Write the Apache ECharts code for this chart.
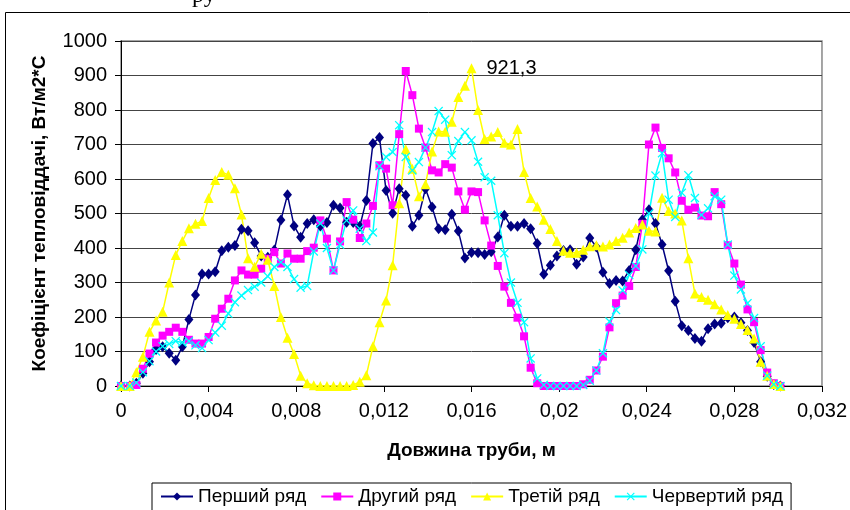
<!DOCTYPE html>
<html>
	<head>
		<meta charset="utf-8">
		<title></title>
		<script src="https://cdn.jsdelivr.net/npm/echarts@6/dist/echarts.min.js" type="text/javascript" charset="utf-8"></script>
	</head>
	<body style="margin:0;background:#fff;">
		<div id="mainChart" style="width: 850px;height:510px;"></div>
		<script type="text/javascript">
			// довжина труби, м
			var xs = [0, 0.0004, 0.0007, 0.001, 0.0013, 0.0016, 0.0019, 0.0022, 0.0025, 0.0028,
				0.0031, 0.0034, 0.0037, 0.004, 0.0043, 0.0046, 0.0049, 0.0052, 0.0055, 0.0058,
				0.0061, 0.0064, 0.0067, 0.007, 0.0073, 0.0076, 0.0079, 0.0082, 0.0085, 0.0088,
				0.0091, 0.0094, 0.0097, 0.01, 0.0103, 0.0106, 0.0109, 0.0112, 0.0115, 0.0118,
				0.0121, 0.0124, 0.0127, 0.013, 0.0133, 0.0136, 0.0139, 0.0142, 0.0145, 0.0148,
				0.0151, 0.0154, 0.0157, 0.016, 0.0163, 0.0166, 0.0169, 0.0172, 0.0175, 0.0178,
				0.0181, 0.0184, 0.0187, 0.019, 0.0193, 0.0196, 0.0199, 0.0202, 0.0205, 0.0208,
				0.0211, 0.0214, 0.0217, 0.022, 0.0223, 0.0226, 0.0229, 0.0232, 0.0235, 0.0238,
				0.0241, 0.0244, 0.0247, 0.025, 0.0253, 0.0256, 0.0259, 0.0262, 0.0265, 0.0268,
				0.0271, 0.0274, 0.0277, 0.028, 0.0283, 0.0286, 0.0289, 0.0292, 0.0295, 0.0298,
				0.0301];

			var row1 = [0, 0, 8, 37, 70, 106, 114, 95, 75, 114,
				193, 264, 325, 325, 331, 392, 402, 407, 454, 450,
				415, 377, 373, 394, 481, 554, 464, 431, 471, 482,
				464, 474, 524, 516, 475, 474, 463, 538, 703, 720,
				567, 501, 572, 553, 463, 495, 572, 519, 456, 453,
				498, 449, 371, 387, 386, 381, 389, 432, 495, 463,
				463, 471, 456, 413, 324, 350, 377, 393, 395, 353,
				374, 429, 403, 330, 297, 306, 304, 335, 395, 482,
				511, 471, 410, 334, 246, 175, 161, 138, 130, 166,
				180, 182, 198, 200, 183, 161, 126, 70, 28, 4,
				0];

			var row2 = [0, 0, 3, 50, 94, 126, 146, 157, 169, 157,
				134, 123, 123, 142, 195, 224, 253, 306, 335, 323,
				323, 340, 369, 388, 355, 384, 369, 369, 391, 401,
				480, 427, 335, 419, 533, 482, 429, 471, 522, 640,
				630, 524, 730, 913, 843, 746, 691, 625, 619, 643,
				633, 564, 511, 564, 562, 480, 407, 348, 288, 241,
				198, 144, 53, 8, 0, 0, 0, 0, 0, 0,
				5, 18, 45, 85, 170, 240, 262, 290, 345, 470,
				700, 749, 690, 660, 619, 537, 511, 517, 494, 492,
				562, 527, 408, 355, 294, 222, 185, 104, 39, 8,
				0];

			var row3 = [0, 0, 40, 85, 157, 190, 215, 300, 380, 420,
				457, 470, 478, 545, 597, 620, 612, 573, 497, 370,
				346, 383, 366, 290, 200, 140, 93, 30, 8, 2,
				0, 0, 0, 0, 0, 3, 12, 31, 115, 185,
				248, 350, 530, 686, 630, 550, 585, 680, 738, 737,
				766, 838, 870, 921.3, 800, 716, 723, 736, 705, 700,
				745, 620, 545, 520, 482, 455, 420, 392, 386, 386,
				395, 405, 408, 404, 410, 420, 430, 445, 458, 468,
				450, 448, 546, 507, 500, 480, 370, 268, 258, 250,
				237, 222, 206, 195, 180, 162, 138, 70, 30, 6,
				0];

			var row4 = [0, 0, 10, 40, 72, 100, 115, 122, 130, 126,
				130, 118, 110, 133, 155, 175, 210, 243, 262, 278,
				288, 300, 318, 345, 359, 345, 310, 285, 290, 390,
				471, 400, 335, 410, 480, 509, 456, 420, 445, 637,
				664, 678, 756, 664, 625, 649, 691, 736, 797, 772,
				669, 710, 736, 712, 650, 605, 595, 495, 385, 300,
				241, 185, 80, 22, 3, 0, 0, 0, 0, 0,
				3, 15, 45, 95, 187, 220, 277, 322, 348, 396,
				500, 610, 675, 540, 490, 560, 611, 545, 496, 515,
				550, 540, 410, 320, 280, 240, 197, 115, 30, 5,
				0];

			var names = ['Перший ряд', 'Другий ряд', 'Третій ряд', 'Червертий ряд'];
			var peakIndex = 53; // 921,3

			var dom = document.getElementById("mainChart");
			var myChart = echarts.init(dom);

			function pairs(ys) {
				var out = [];
				for (var i = 0; i < ys.length; i++) {
					out.push([xs[i], ys[i]]);
				}
				return out;
			}

			var data3 = pairs(row3);
			data3[peakIndex] = {
				value: data3[peakIndex],
				label: {
					show: true,
					position: 'right',
					distance: 10,
					formatter: '921,3',
					color: '#000',
					fontSize: 20,
					fontFamily: 'Liberation Sans'
				}
			};

			var crossPath = 'path://M0,1L1,0L5,4L9,0L10,1L6,5L10,9L9,10L5,6L1,10L0,9L4,5Z';

			var option = {
				animation: false,
				backgroundColor: '#fff',
				textStyle: {
					fontFamily: 'Liberation Sans',
					color: '#000'
				},
				graphic: [{
					type: 'rect',
					shape: { x: 5.5, y: 12.5, width: 900, height: 600 },
					style: { fill: 'none', stroke: '#000', lineWidth: 1 },
					silent: true
				}, {
					type: 'text',
					style: {
						x: 192, y: 8,
						text: 'ру',
						font: '24px "Liberation Serif"',
						fill: '#000',
						textVerticalAlign: 'bottom'
					},
					silent: true
				}],
				grid: {
					left: 121,
					right: 27,
					top: 41,
					bottom: 124,
					show: true,
					borderColor: '#888',
					borderWidth: 1.5
				},
				legend: {
					data: names,
					left: 152,
					top: 483,
					padding: [4, 8, 20, 8],
					itemWidth: 32,
					itemHeight: 10,
					itemGap: 14,
					borderColor: '#000',
					borderWidth: 1,
					textStyle: { fontSize: 19, color: '#000', fontFamily: 'Liberation Sans' }
				},
				xAxis: {
					type: 'value',
					min: 0,
					max: 0.032,
					interval: 0.004,
					name: 'Довжина труби, м',
					nameLocation: 'middle',
					nameGap: 55,
					nameTextStyle: { fontSize: 19, fontWeight: 'bold', color: '#000' },
					axisLine: { lineStyle: { color: '#000', width: 1 } },
					axisTick: { show: true, length: 6, lineStyle: { color: '#000' } },
					axisLabel: {
						margin: 15,
						fontSize: 20,
						color: '#000',
						formatter: function(v) {
							return String(+v.toFixed(3)).replace('.', ',');
						}
					},
					splitLine: { show: false }
				},
				yAxis: {
					type: 'value',
					min: 0,
					max: 1000,
					interval: 100,
					name: 'Коефіцієнт тепловіддачі, Вт/м2*С',
					nameLocation: 'middle',
					nameGap: 72,
					nameTextStyle: { fontSize: 19, fontWeight: 'bold', color: '#000' },
					axisLine: { show: true, lineStyle: { color: '#000', width: 1 } },
					axisTick: { show: true, length: 6, lineStyle: { color: '#000' } },
					axisLabel: {
						margin: 14,
						fontSize: 20,
						color: '#000',
						formatter: function(v) { return String(v); }
					},
					splitLine: { show: true, lineStyle: { color: '#444', width: 1 } }
				},
				series: [{
					name: names[0],
					type: 'line',
					data: pairs(row1),
					symbol: 'diamond',
					symbolSize: [9, 11],
					color: '#000080',
					lineStyle: { width: 1.5, color: '#000080' },
					itemStyle: { color: '#000080' }
				}, {
					name: names[1],
					type: 'line',
					data: pairs(row2),
					symbol: 'rect',
					symbolSize: 8,
					color: '#ff00ff',
					lineStyle: { width: 1.5, color: '#ff00ff' },
					itemStyle: { color: '#ff00ff' }
				}, {
					name: names[2],
					type: 'line',
					data: data3,
					symbol: 'triangle',
					symbolSize: 10,
					color: '#ffff00',
					lineStyle: { width: 1.5, color: '#ffff00' },
					itemStyle: { color: '#ffff00' }
				}, {
					name: names[3],
					type: 'line',
					data: pairs(row4),
					symbol: crossPath,
					symbolSize: 9,
					color: '#00ffff',
					lineStyle: { width: 1.5, color: '#00ffff' },
					itemStyle: { color: '#00ffff' }
				}]
			};
			if (option && typeof option === "object") {
				myChart.setOption(option, true);
			}
		</script>
	</body>
</html>
